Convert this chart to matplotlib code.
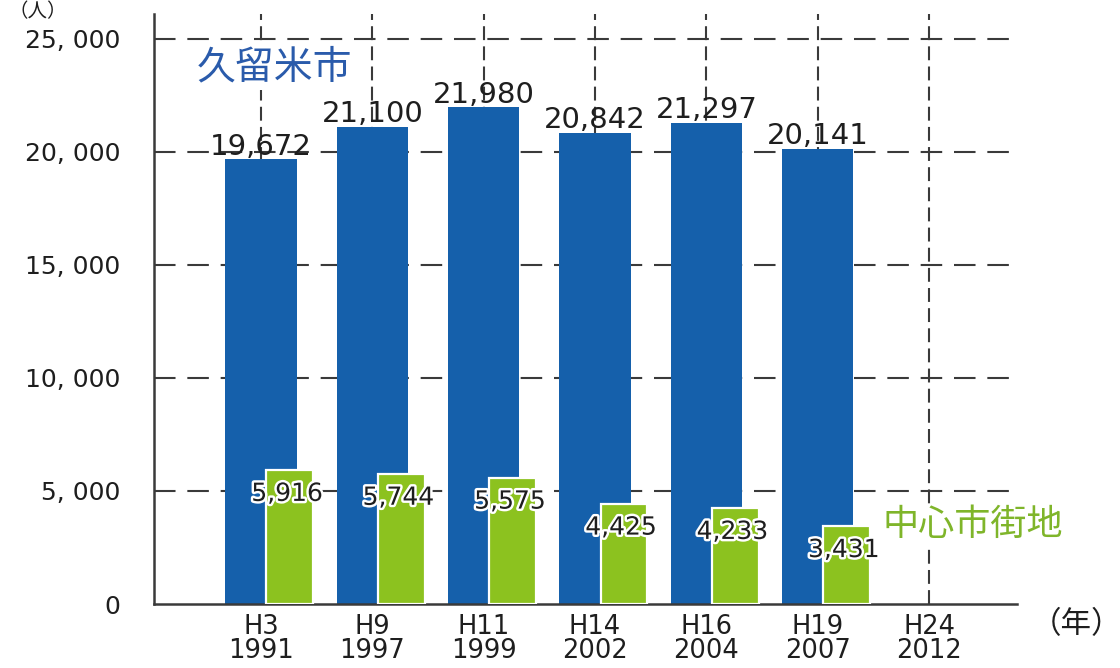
import matplotlib
matplotlib.use("Agg")
import matplotlib.pyplot as plt
import matplotlib.patheffects as pe

plt.rcParams["lines.scale_dashes"] = False

# Data
eras = ["H3", "H9", "H11", "H14", "H16", "H19", "H24"]
years = ["1991", "1997", "1999", "2002", "2004", "2007", "2012"]
city_total = [19672, 21100, 21980, 20842, 21297, 20141]
central_area = [5916, 5744, 5575, 4425, 4233, 3431]
y_ticks = [0, 5000, 10000, 15000, 20000, 25000]
y_tick_labels = ["0", "5, 000", "10, 000", "15, 000", "20, 000", "25, 000"]

BLUE = "#1560ab"
GREEN = "#8cc21f"
GRID = "#3a3a3a"
TEXT = "#1e1e1e"
NUM_FONT = ["DejaVu Sans"]
JP_FONT = ["Noto Sans CJK JP", "DejaVu Sans"]

fig = plt.figure(figsize=(11.2, 6.68), dpi=100)
ax = fig.add_axes([154 / 1120, 64 / 668, (1017 - 154) / 1120, (604 - 14) / 668])

ax.set_xlim(-0.96, 6.79)
ax.set_ylim(0, 26100)

x_all = list(range(len(eras)))
x_data = x_all[:len(city_total)]

# dashed grid behind the bars
ax.vlines(x_all, 0, 26100, colors=GRID, linewidth=1.5,
          linestyles=[(0, (10, 4.5))], zorder=0)
ax.hlines(y_ticks[1:], -0.96, 6.79, colors=GRID, linewidth=1.5,
          linestyles=[(0, (15.5, 8.5))], zorder=0)

# bars
ax.bar(x_data, city_total, width=0.64, color=BLUE, zorder=2)
green_x = [x + 0.26 for x in x_data]
ax.bar(green_x, central_area, width=0.42, color=GREEN,
       edgecolor="white", linewidth=1.6, zorder=3)

# value labels
for x, v in zip(x_data, city_total):
    ax.annotate(f"{v:,}", (x, v), xytext=(0, -1), textcoords="offset points",
                ha="center", va="bottom", fontsize=21, family=NUM_FONT,
                color=TEXT, zorder=5)
for x, v in zip(green_x, central_area):
    ax.annotate(f"{v:,}", (x, v), xytext=(-2, -17), textcoords="offset points",
                ha="center", va="center", fontsize=18, family=NUM_FONT,
                color=TEXT, zorder=5,
                path_effects=[pe.withStroke(linewidth=3.5, foreground="white")])

# axes styling
for side in ("top", "right"):
    ax.spines[side].set_visible(False)
for side in ("left", "bottom"):
    ax.spines[side].set_color(GRID)
    ax.spines[side].set_linewidth(1.8)

ax.set_yticks(y_ticks)
ax.set_yticklabels(y_tick_labels, fontsize=18, family=NUM_FONT, color=TEXT)
ax.tick_params(axis="y", length=0, pad=24)

ax.set_xticks(x_all)
ax.set_xticklabels([f"{e}\n{y}" for e, y in zip(eras, years)],
                   fontsize=18.5, family=NUM_FONT, color=TEXT, linespacing=0.92)
ax.tick_params(axis="x", length=0, pad=7)

# series names and units
fig.text(197 / 1120, 1 - 67 / 668, "久留米市", fontsize=28, family=JP_FONT,
         color="#2a5bab", ha="left", va="center", zorder=6,
         bbox=dict(facecolor="white", edgecolor="none", pad=2))
fig.text(883 / 1120, 1 - 525 / 668, "中心市街地", fontsize=26, family=JP_FONT,
         color="#7fb52a", ha="left", va="center", zorder=6,
         bbox=dict(facecolor="white", edgecolor="none", pad=2))
fig.text(1076 / 1120, 1 - 625 / 668, "（年）", fontsize=22, family=JP_FONT,
         color=TEXT, ha="center", va="center")
fig.text(8 / 1120, 1 - 1 / 668, "（人）", fontsize=14, family=JP_FONT,
         color=TEXT, ha="left", va="top")

fig.savefig("out.png", dpi=100)
